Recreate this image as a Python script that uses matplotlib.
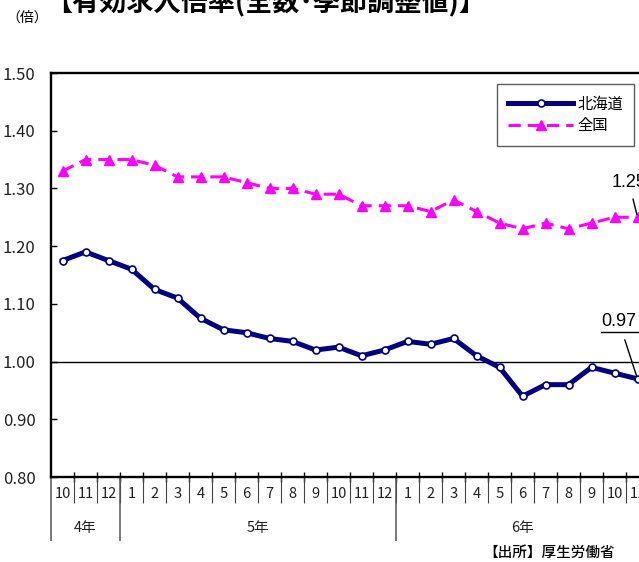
import matplotlib
matplotlib.use("Agg")
import matplotlib.pyplot as plt
import matplotlib.transforms as mtransforms
from matplotlib.lines import Line2D
import numpy as np

plt.rcParams['font.family'] = ['Liberation Sans Narrow', 'DejaVu Sans Condensed', 'Noto Sans CJK JP', 'DejaVu Sans']

months = ['10', '11', '12', '1', '2', '3', '4', '5', '6', '7', '8', '9', '10', '11', '12',
          '1', '2', '3', '4', '5', '6', '7', '8', '9', '10', '11']
year_labels = ['4年', '5年', '6年']
year_counts = [3, 12, 11]
hokkaido = [1.175, 1.19, 1.175, 1.16, 1.125, 1.11, 1.075, 1.055, 1.05, 1.04, 1.035, 1.02, 1.025,
            1.01, 1.02, 1.035, 1.03, 1.04, 1.01, 0.99, 0.94, 0.96, 0.96, 0.99, 0.98, 0.97]
zenkoku = [1.33, 1.35, 1.35, 1.35, 1.34, 1.32, 1.32, 1.32, 1.31, 1.30, 1.30, 1.29, 1.29,
           1.27, 1.27, 1.27, 1.26, 1.28, 1.26, 1.24, 1.23, 1.24, 1.23, 1.24, 1.25, 1.25]
yticks = [0.80, 0.90, 1.00, 1.10, 1.20, 1.30, 1.40, 1.50]

W, H = 639, 562
fig = plt.figure(figsize=(W / 100, H / 100), dpi=100)
# axes box in pixels: left 51, top 73, bottom 477, 23 px per month
ax = fig.add_axes([51 / W, 1 - 477 / H, 598 / W, 404 / H])

x = np.arange(len(months))
ax.plot(x, zenkoku, color='#FF00FF', lw=2.2, dashes=(4, 2.3), marker='^', ms=7.5,
        mfc='#FF00FF', mec='#FF00FF', label='全国', zorder=3)
ax.plot(x, hokkaido, color='#000080', lw=3.6, marker='o', ms=5, mfc='white',
        mec='#000080', mew=1.2, label='北海道', zorder=4)
ax.axhline(1.0, color='black', lw=1.0, zorder=2)

ax.set_xlim(-0.5, len(months) - 0.5)
ax.set_ylim(0.8, 1.5)
ax.set_yticks(yticks)
ax.set_yticklabels([f'{v:.2f}' for v in yticks], fontsize=12, color='#222222')
ax.tick_params(axis='y', direction='in', length=4.3, width=1, pad=11)
ax.set_xticks(np.arange(0.5, len(months) - 1, 1))
ax.set_xticklabels([])
ax.tick_params(axis='x', direction='inout', length=7, width=1)
for s in ['top', 'left', 'bottom']:
    ax.spines[s].set_linewidth(1.7)
ax.spines['right'].set_visible(False)


def fy(p):
    return (477 - p) / 404


trans = mtransforms.blended_transform_factory(ax.transData, ax.transAxes)
for i, m in enumerate(months):
    ax.text(i, fy(494), m, transform=trans, ha='center', va='center', fontsize=10.6,
            color='#222222', clip_on=False)
bounds = np.arange(0.5, len(months) - 0.5, 1)
ax.vlines(bounds, fy(503), 0, transform=trans, color='#444444', lw=0.8, clip_on=False)
starts = np.cumsum([0] + year_counts[:-1])
ax.vlines(starts - 0.5, fy(541), 0, transform=trans, color='#555555', lw=1.1, clip_on=False)
for lab, st, n in zip(year_labels, starts, year_counts):
    ax.text(st + (n - 1) / 2, fy(528), lab, transform=trans, ha='center', va='center',
            fontsize=10.5, color='#222222', family=['Liberation Sans Narrow', 'Noto Sans CJK JP'],
            clip_on=False)

handles, labels = ax.get_legend_handles_labels()
leg = ax.legend(handles[::-1], labels[::-1], loc='upper left',
                bbox_to_anchor=(497 / W, 1 - 84 / H), bbox_transform=fig.transFigure,
                prop={'family': 'Noto Sans CJK JP', 'size': 11}, frameon=True, fancybox=False,
                edgecolor='#333333', handlelength=4.2, handletextpad=0.3, labelspacing=0.3,
                borderpad=0.75, borderaxespad=0)
leg.get_frame().set_linewidth(1.0)

ax.annotate(f'{zenkoku[-1]:.2f}', xy=(x[-1], zenkoku[-1]), xytext=(-26, 35),
            textcoords='offset pixels', ha='left', va='center', fontsize=13,
            family='Liberation Sans', arrowprops=dict(arrowstyle='-', color='black', lw=1,
                                                       shrinkA=4, shrinkB=2))
ax.annotate(f'{hokkaido[-1]:.2f}', xy=(x[-1], hokkaido[-1]), xytext=(-36, 57),
            textcoords='offset pixels', ha='left', va='center', fontsize=13,
            family='Liberation Sans', arrowprops=dict(arrowstyle='-', color='black', lw=1,
                                                       shrinkA=5, shrinkB=2))
fig.add_artist(Line2D([601 / W, 1.0], [1 - 332 / H] * 2, color='black', lw=1))

fig.text(45 / W, 1 - 11 / H, '【有効求人倍率(全数･季節調整値)】', fontsize=19.5, weight='bold',
         family='Noto Sans CJK JP', va='baseline', ha='left')
fig.text(6 / W, 1 - 18 / H, '（倍）', fontsize=10, family='Noto Sans CJK JP', va='center', ha='left')
fig.text(615 / W, 1 - 553 / H, '【出所】厚生労働省', fontsize=10.5, family='Noto Sans CJK JP',
         weight='medium', va='center', ha='right')

fig.savefig('out.png', dpi=100)
